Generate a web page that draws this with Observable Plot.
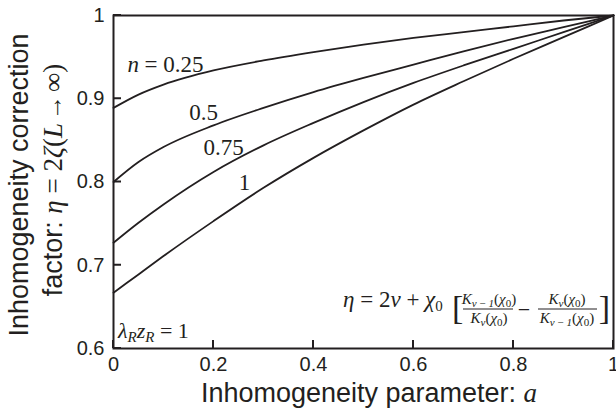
<!DOCTYPE html>
<html><head><meta charset="utf-8">
<script src="https://cdn.jsdelivr.net/npm/d3@7"></script>
<script src="https://cdn.jsdelivr.net/npm/@observablehq/plot@0.6"></script>
<style>body{margin:0;background:#fff} #chart svg{display:block}</style>
</head><body><div id="chart"></div>
<script>
// Inhomogeneity parameter a (x) and correction factor eta (y) for each n
const aValues = [0, 0.05, 0.1, 0.2, 0.3, 0.4, 0.5, 0.6, 0.7, 0.8, 0.9, 1];
const eta_n025 = [0.889, 0.905, 0.917, 0.934, 0.946, 0.956, 0.965, 0.973, 0.980, 0.987, 0.994, 1];
const eta_n050 = [0.800, 0.824, 0.842, 0.868, 0.889, 0.908, 0.925, 0.941, 0.957, 0.972, 0.986, 1];
const eta_n075 = [0.727, 0.751, 0.773, 0.812, 0.844, 0.871, 0.896, 0.919, 0.940, 0.960, 0.980, 1];
const eta_n100 = [0.667, 0.689, 0.711, 0.753, 0.793, 0.829, 0.862, 0.893, 0.921, 0.948, 0.974, 1];
const seriesNames = ["0.25", "0.5", "0.75", "1"];
const seriesValues = [eta_n025, eta_n050, eta_n075, eta_n100];
const xTicks = [0, 0.2, 0.4, 0.6, 0.8, 1];
const xTickLabels = ["0", "0.2", "0.4", "0.6", "0.8", "1"];
const yTicks = [0.6, 0.7, 0.8, 0.9, 1];
const yTickLabels = ["0.6", "0.7", "0.8", "0.9", "1"];
// curve label anchors (data coords)
const labelText = ["= 0.25", "0.5", "0.75", "1"];
const labelA = [0.18, 0.18, 0.22, 0.262];
const labelEta = [0.932, 0.874, 0.832, 0.79];
const labelAnchor = ["end", "middle", "middle", "middle"];

const data = seriesNames.flatMap((n, k) => aValues.map((a, i) => ({a, eta: seriesValues[k][i], n})));
const labels = labelText.map((t, i) => ({t, a: labelA[i], eta: labelEta[i], anchor: labelAnchor[i]}));
const ink = "#231f20";
const serif = "'Liberation Serif', 'Times New Roman', serif";
const sans = "'Liberation Sans', Arial, Helvetica, sans-serif";

const chart = Plot.plot({
  width: 616, height: 409,
  marginLeft: 113, marginRight: 3, marginTop: 15, marginBottom: 61,
  style: {fontFamily: sans, color: ink, background: "#fff", overflow: "visible"},
  x: {domain: [0, 1]},
  y: {domain: [0.6, 1]},
  marks: [
    Plot.line(data, {x: "a", y: "eta", z: "n", stroke: ink, strokeWidth: 1.8, curve: "monotone-x"}),
    Plot.axisX(xTicks, {tickSize: 0, tickPadding: 8, fontSize: 20, label: null,
      tickFormat: d => xTickLabels[xTicks.indexOf(d)]}),
    Plot.axisY(yTicks, {tickSize: 0, tickPadding: 9, fontSize: 20, label: null,
      tickFormat: d => yTickLabels[yTicks.indexOf(d)]}),
    Plot.frame({stroke: ink, strokeWidth: 2}),
    Plot.text(labels.filter(d => d.anchor === "middle"), {x: "a", y: "eta", text: "t", lineAnchor: "bottom",
      fontFamily: serif, fontSize: 23, fill: ink}),
    Plot.text(labels.filter(d => d.anchor === "end"), {x: "a", y: "eta", text: "t", lineAnchor: "bottom",
      textAnchor: "end", fontFamily: serif, fontSize: 23, fill: ink}),
    Plot.text(labels.filter(d => d.anchor === "end"), {x: 0.028, y: "eta", text: () => "n", lineAnchor: "bottom",
      textAnchor: "start", fontFamily: serif, fontStyle: "italic", fontSize: 23, fill: ink})
  ]
});
document.getElementById("chart").appendChild(chart);

const svg = d3.select(chart);
const X = chart.scale("x"), Y = chart.scale("y");
const x0 = X.apply(0), y0 = Y.apply(0.6), tick = 8;
// inward tick marks, positioned through the plot's scales (drawn as filled rects)
const tg = svg.append("g").attr("class", "inward-ticks").attr("fill", ink);
xTicks.forEach(t => tg.append("rect").attr("x", X.apply(t) - 1).attr("width", 2).attr("y", y0 - tick).attr("height", tick));
yTicks.forEach(t => tg.append("rect").attr("y", Y.apply(t) - 1).attr("height", 2).attr("x", x0).attr("width", tick));

function addSpans(el, parts) {
  parts.forEach(p => {
    const s = el.append("tspan").text(p.t);
    if (p.i) s.attr("font-style", "italic");
    if (p.f) s.attr("font-family", p.f);
    if (p.s) s.attr("font-size", p.s);
    if (p.dy) s.attr("dy", p.dy);
    if (p.dx) s.attr("dx", p.dx);
  });
}
// lambda_R z_R = 1
const lam = svg.append("text").attr("x", X.apply(0.01)).attr("y", Y.apply(0.612)).attr("text-anchor", "start")
  .attr("font-family", serif).attr("font-size", 22).attr("fill", ink);
addSpans(lam, [{t: "λ", i: 1}, {t: "R", i: 1, s: 15, dy: 4}, {t: "z", i: 1, dy: -4}, {t: "R", i: 1, s: 15, dy: 4}, {t: " = 1", dy: -4}]);

// formula
const fg = svg.append("g").attr("font-family", serif).attr("fill", ink).attr("text-anchor", "start");
const main = fg.append("text").attr("x", 343).attr("y", 307).attr("font-size", 23);
addSpans(main, [{t: "η", i: 1}, {t: " = 2"}, {t: "ν", i: 1}, {t: " + "}, {t: "χ", i: 1}, {t: "0", s: 15, dy: 4}]);
fg.append("text").attr("x", 452).attr("y", 319).attr("font-size", 34).text("[");
fg.append("text").attr("x", 610).attr("y", 319).attr("font-size", 34).attr("text-anchor", "end").text("]");
fg.append("text").attr("x", 524).attr("y", 317).attr("font-size", 22).attr("text-anchor", "middle").text("−");
function kterm(el, sub) {
  addSpans(el, [{t: "K", i: 1}, {t: sub, i: 1, s: 11, dy: 3}, {t: "(", dy: -3}, {t: "χ", i: 1}, {t: "0", s: 11, dy: 3}, {t: ")", dy: -3}]);
}
const fracs = [{cx: 489, x1: 463, x2: 513, num: "ν\u2009−\u20091", den: "ν"}, {cx: 567, x1: 538, x2: 597, num: "ν", den: "ν\u2009−\u20091"}];
fracs.forEach(f => {
  kterm(fg.append("text").attr("x", f.cx).attr("y", 304).attr("font-size", 15).attr("text-anchor", "middle"), f.num);
  kterm(fg.append("text").attr("x", f.cx).attr("y", 323).attr("font-size", 15).attr("text-anchor", "middle"), f.den);
  fg.append("line").attr("x1", f.x1).attr("x2", f.x2).attr("y1", 309).attr("y2", 309).attr("stroke", ink).attr("stroke-width", 1);
});

// axis titles
const xt = svg.append("text").attr("x", 369).attr("y", 402).attr("text-anchor", "middle")
  .attr("font-family", sans).attr("font-size", 27).attr("fill", ink);
addSpans(xt, [{t: "Inhomogeneity parameter: "}, {t: "a", i: 1, f: serif}]);
svg.append("text").attr("transform", "translate(28,185) rotate(-90)").attr("text-anchor", "middle")
  .attr("font-family", sans).attr("font-size", 27).attr("fill", ink).text("Inhomogeneity correction");
const yt2 = svg.append("text").attr("transform", "translate(62,180) rotate(-90)").attr("text-anchor", "middle")
  .attr("font-family", sans).attr("font-size", 27).attr("fill", ink);
addSpans(yt2, [{t: "factor: "}, {t: "η", i: 1, f: serif}, {t: " = 2", f: serif}, {t: "ζ", i: 1, f: serif}, {t: "(", f: serif}, {t: "L", i: 1, f: serif}, {t: "→", f: serif, s: 25, dx: 3}, {t: "∞)", f: serif, dx: 3}]);
</script>
</body></html>
